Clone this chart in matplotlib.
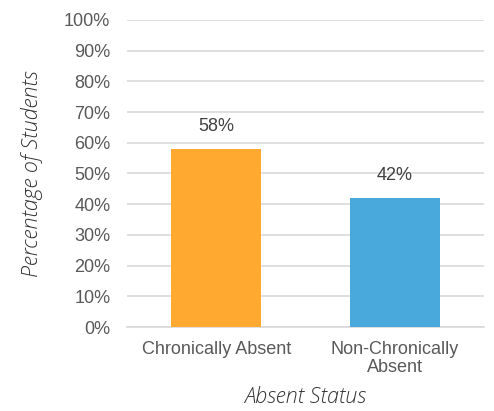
import matplotlib
matplotlib.use("Agg")
import matplotlib.pyplot as plt

# absence breakdown
categories = ["Chronically Absent", "Non-Chronically\nAbsent"]
percents = [58, 42]
colors = ["#FFA931", "#4AA9DC"]

fig = plt.figure(figsize=(4.94, 4.11), dpi=100)
ax = fig.add_axes([127/494, 1 - 327/411, 357/494, 307/411])

x = range(len(categories))
ax.bar(x, percents, width=0.506, color=colors, zorder=3)

for xi, v in zip(x, percents):
    ax.annotate(f"{v}%", (xi, v), xytext=(0, 10), textcoords="offset points",
                ha="center", va="bottom", fontsize=13, color="#404040",
                family="Liberation Sans")

ax.set_xlim(-0.5, 1.5)
ax.set_ylim(0, 100)
ax.set_yticks(range(0, 101, 10))
ax.set_yticklabels([f"{t}%" for t in range(0, 101, 10)])
ax.set_xticks(list(x))
ax.set_xticklabels(categories, linespacing=1.1)
ax.yaxis.grid(True, color="#d9d9d9", linewidth=1.2, zorder=0)

for s in ["top", "right", "left"]:
    ax.spines[s].set_visible(False)
ax.spines["bottom"].set_color("#d9d9d9")
ax.spines["bottom"].set_linewidth(1.2)
ax.tick_params(axis="both", length=0, labelsize=13, labelcolor="#595959")
ax.tick_params(axis="y", pad=12)
ax.tick_params(axis="x", pad=10)
for lbl in ax.get_xticklabels() + ax.get_yticklabels():
    lbl.set_family("Liberation Sans")

ax.set_ylabel("Percentage of Students", fontsize=15.5, style="italic",
              family="Open Sans", fontweight="light", color="#333333",
              labelpad=15)
ax.set_xlabel("Absent Status", fontsize=15.5, style="italic",
              family="Open Sans", fontweight="light", color="#333333",
              labelpad=7)

fig.savefig("out.png", dpi=100)
